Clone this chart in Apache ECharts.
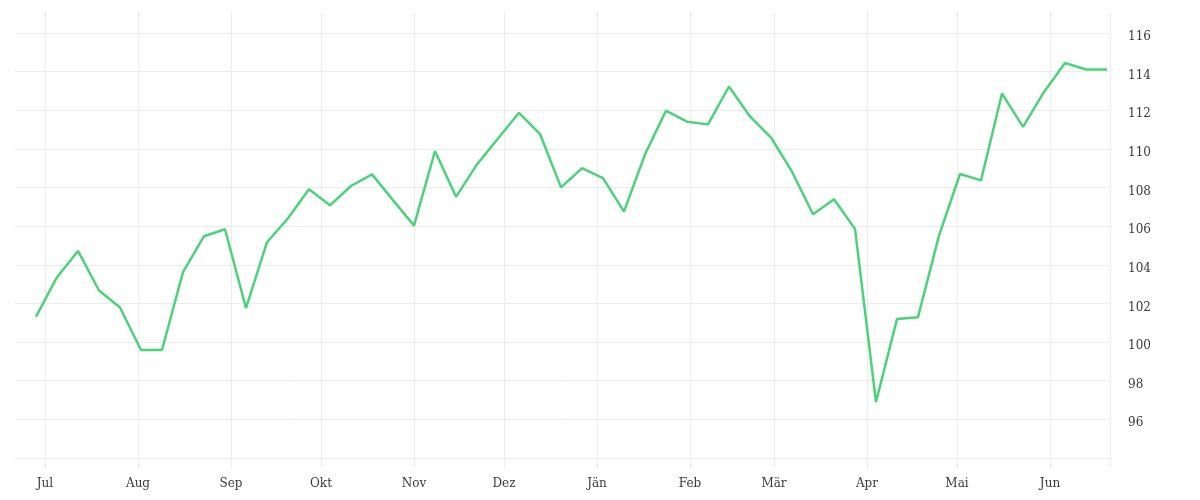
<!DOCTYPE html>
<html>
<head>
<meta charset="utf-8">
<script src="https://cdn.jsdelivr.net/npm/echarts@6/dist/echarts.min.js"></script>
<style>html,body{margin:0;padding:0;background:#fff}#c{width:1200px;height:500px}</style>
</head>
<body>
<div id="c"></div>
<script>
var dates = ['2022-06-28','2022-07-05','2022-07-12','2022-07-19','2022-07-26','2022-08-02','2022-08-09','2022-08-16','2022-08-23','2022-08-30',
'2022-09-06','2022-09-13','2022-09-20','2022-09-27','2022-10-04','2022-10-11','2022-10-18','2022-10-25','2022-11-01','2022-11-08',
'2022-11-15','2022-11-22','2022-11-29','2022-12-06','2022-12-13','2022-12-20','2022-12-27','2023-01-03','2023-01-10','2023-01-17',
'2023-01-24','2023-01-31','2023-02-07','2023-02-14','2023-02-21','2023-02-28','2023-03-07','2023-03-14','2023-03-21','2023-03-28',
'2023-04-04','2023-04-11','2023-04-18','2023-04-25','2023-05-02','2023-05-09','2023-05-16','2023-05-23','2023-05-30','2023-06-06',
'2023-06-13','2023-06-20'];
var values = [101.32,103.36,104.72,102.67,101.79,99.59,99.59,103.62,105.48,105.84,
101.76,105.17,106.41,107.91,107.08,108.08,108.68,107.35,106.03,109.89,
107.52,109.2,110.54,111.87,110.77,108.01,109.0,108.49,106.75,109.72,
111.98,111.41,111.27,113.23,111.68,110.59,108.82,106.62,107.39,105.86,
96.9,101.19,101.29,105.51,108.70,108.37,112.87,111.14,112.95,114.45,
114.11,114.11];
var monthNames = ['Jän','Feb','Mär','Apr','Mai','Jun','Jul','Aug','Sep','Okt','Nov','Dez'];
var monthStarts = ['2022-07-01','2022-08-01','2022-09-01','2022-10-01','2022-11-01','2022-12-01','2023-01-01','2023-02-01','2023-03-01','2023-04-01','2023-05-01','2023-06-01'];
var xRange = ['2022-06-21','2023-06-21'];
var yMin = 94, yMax = 116, yStep = 2;

function ts(s){ var p = s.split('-'); return Date.UTC(+p[0], +p[1]-1, +p[2]); }
var xMin = ts(xRange[0]), xMax = ts(xRange[1]);
var labelTicks = monthStarts.map(ts);
var lineTicks = labelTicks.concat([xMax]);
var gridColor = '#ececec';
var font = 'DejaVu Serif';

var chart = echarts.init(document.getElementById('c'), null, {renderer:'canvas'});
chart.setOption({
  animation: false,
  grid: {left: 15, right: 90, top: 33, bottom: 42, containLabel: false},
  xAxis: [{
    type: 'value', min: xMin, max: xMax, position: 'bottom',
    axisLine: {show: false},
    axisTick: {show: true, length: 10, lineStyle: {color: gridColor, width: 1}, customValues: lineTicks},
    splitLine: {show: true, lineStyle: {color: gridColor, width: 1}},
    axisLabel: {
      customValues: labelTicks, margin: 20, color: '#3a3a3a', fontFamily: font, fontSize: 12,
      formatter: function(v){ return monthNames[new Date(v).getUTCMonth()]; }
    }
  }, {
    type: 'value', min: xMin, max: xMax, position: 'top',
    axisLine: {show: false},
    axisTick: {show: true, length: 21, lineStyle: {color: gridColor, width: 1}, customValues: lineTicks},
    splitLine: {show: false},
    axisLabel: {show: false}
  }],
  yAxis: {
    type: 'value', position: 'right', min: yMin, max: yMax, interval: yStep,
    axisLine: {show: false}, axisTick: {show: false},
    splitLine: {show: true, lineStyle: {color: gridColor, width: 1}},
    axisLabel: {margin: 18, color: '#3a3a3a', fontFamily: font, fontSize: 12, showMinLabel: false,
      verticalAlign: 'top', lineHeight: 8}
  },
  series: [{
    type: 'line', xAxisIndex: 0,
    data: dates.map(function(d, i){ return [ts(d), values[i]]; }),
    showSymbol: false, symbol: 'none',
    lineStyle: {color: '#4cd37a', width: 2.5},
    itemStyle: {color: '#4cd37a'}
  }]
});
</script>
</body>
</html>
